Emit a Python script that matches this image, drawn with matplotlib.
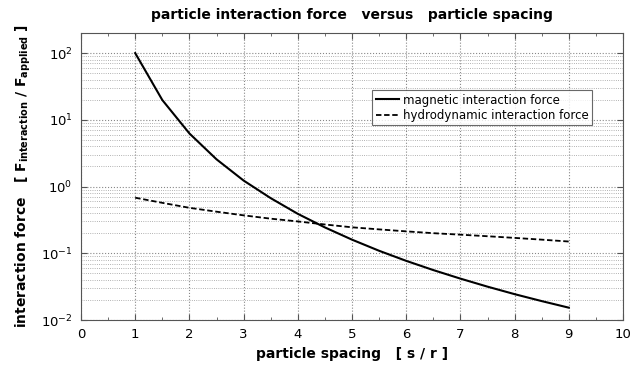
import numpy as np
import matplotlib.pyplot as plt
from matplotlib.ticker import LogLocator, MultipleLocator

# particle spacing s/r
spacing = [1.0, 1.5, 2.0, 2.5, 3.0, 3.5, 4.0, 4.5, 5.0, 5.5, 6.0, 6.5, 7.0, 7.5, 8.0, 8.5, 9.0]
# magnetic interaction force / applied force
magnetic = [100, 19.8, 6.25, 2.56, 1.23, 0.67, 0.39, 0.244, 0.16, 0.109, 0.077, 0.056,
            0.0417, 0.0316, 0.0244, 0.0192, 0.0153]
# hydrodynamic interaction force / applied force
hydro = [0.68, 0.57, 0.48, 0.42, 0.37, 0.33, 0.30, 0.27, 0.245, 0.228, 0.213, 0.200,
         0.19, 0.18, 0.17, 0.16, 0.15]

plt.rcParams['mathtext.fontset'] = 'dejavusans'

fig = plt.figure(figsize=(6.32, 3.68), dpi=100)
ax = fig.add_axes([81/632, 1 - 320/368, (623-81)/632, (320-33)/368])

ax.plot(spacing, magnetic, color='black', lw=1.5, label='magnetic interaction force')
ax.plot(spacing, hydro, color='black', lw=1.3, ls=(0, (3, 1.5)), label='hydrodynamic interaction force')

ax.set_yscale('log')
ax.set_xlim(0, 10)
ax.set_ylim(1e-2, 200)
ax.xaxis.set_major_locator(MultipleLocator(1))
ax.xaxis.set_minor_locator(MultipleLocator(0.5))
ax.yaxis.set_major_locator(LogLocator(base=10, numticks=10))
ax.yaxis.set_minor_locator(LogLocator(base=10, subs=np.arange(2, 10), numticks=20))

ax.grid(True, which='major', axis='both', color='#888888', ls=':', lw=0.8)
ax.grid(True, which='minor', axis='y', color='#999999', ls=':', lw=0.6)

ax.tick_params(which='both', direction='in', top=True, right=True, color='#555555')
ax.tick_params(which='major', length=4, labelsize=9.5, pad=6)
ax.tick_params(which='minor', length=2)
ax.tick_params(axis='y', which='minor', length=0)
for sp in ax.spines.values():
    sp.set_color('#555555')

ax.set_title('particle interaction force   versus   particle spacing',
             fontsize=10, fontweight='bold', pad=10)
ax.set_xlabel('particle spacing   [ s / r ]', fontsize=10, fontweight='bold')
ax.set_ylabel(r'interaction force   [ F$_{\mathbf{interaction}}$ / F$_{\mathbf{applied}}$ ]',
              fontsize=10, fontweight='bold', labelpad=6)

leg = ax.legend(loc='upper left', bbox_to_anchor=((372-81)/542, 1 - (90-33)/287),
                fontsize=8.5, frameon=True, fancybox=False, handlelength=2.0,
                handletextpad=0.3, borderpad=0.3, labelspacing=0.2, borderaxespad=0)
leg.get_frame().set_edgecolor('#444444')
leg.get_frame().set_linewidth(0.8)

fig.savefig('out.png', dpi=100)
